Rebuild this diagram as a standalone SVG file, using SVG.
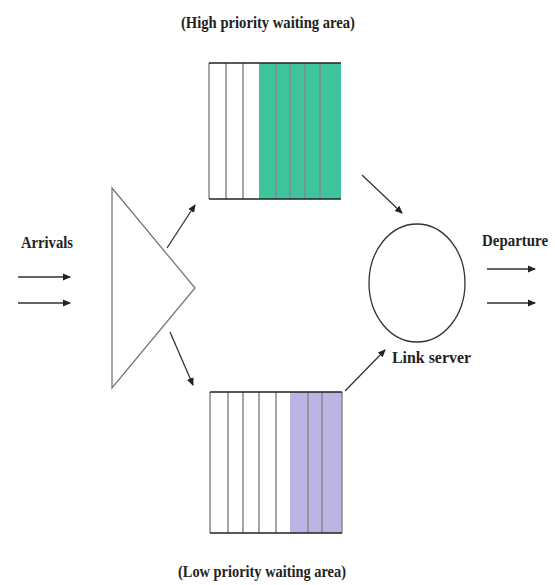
<svg xmlns="http://www.w3.org/2000/svg" width="555" height="585" viewBox="0 0 555 585">
<style>
.t{font-family:"Liberation Serif","Times New Roman",serif;font-size:16px;font-weight:bold;fill:#222;}
.sep{stroke:#888;stroke-width:1.5;}
.edge{stroke:#222;stroke-width:1.5;}
.con{stroke:#333;stroke-width:1.3;fill:none;marker-end:url(#ah);}
</style>
<defs>
<marker id="ah" markerWidth="8" markerHeight="8" refX="7" refY="4" orient="auto" markerUnits="userSpaceOnUse">
<path d="M0,0.5 L8,4 L0,7.5 Z" fill="#222"/>
</marker>
</defs>
<rect width="555" height="585" fill="#fff"/>
<g id="high-queue">
<rect x="259" y="63" width="82" height="136" fill="#40c49e"/>
<line class="sep" x1="209" y1="63" x2="209" y2="199"/>
<line class="sep" x1="226" y1="63" x2="226" y2="199"/>
<line class="sep" x1="243" y1="63" x2="243" y2="199"/>
<line class="sep" x1="276" y1="63" x2="276" y2="199"/>
<line class="sep" x1="290" y1="63" x2="290" y2="199"/>
<line class="sep" x1="305" y1="63" x2="305" y2="199"/>
<line class="sep" x1="320" y1="63" x2="320" y2="199"/>
<line class="edge" x1="209" y1="63" x2="341" y2="63"/>
<line class="edge" x1="209" y1="199" x2="341" y2="199"/>
<text class="t" x="181" y="28" textLength="174" lengthAdjust="spacingAndGlyphs">(High priority waiting area)</text>
</g>
<g id="low-queue">
<rect x="290" y="392" width="52" height="141" fill="#bbb5e6"/>
<line class="sep" x1="210" y1="392" x2="210" y2="533"/>
<line class="sep" x1="228" y1="392" x2="228" y2="533"/>
<line class="sep" x1="243" y1="392" x2="243" y2="533"/>
<line class="sep" x1="259" y1="392" x2="259" y2="533"/>
<line class="sep" x1="276" y1="392" x2="276" y2="533"/>
<line class="sep" x1="308" y1="392" x2="308" y2="533"/>
<line class="sep" x1="322" y1="392" x2="322" y2="533"/>
<line class="sep" x1="342" y1="392" x2="342" y2="533"/>
<line class="edge" x1="210" y1="392" x2="342" y2="392"/>
<line class="edge" x1="210" y1="533" x2="342" y2="533"/>
<text class="t" x="178" y="577" textLength="168" lengthAdjust="spacingAndGlyphs">(Low priority waiting area)</text>
</g>
<g id="classifier">
<polygon points="112,188 195,288 112,388" fill="#fff" stroke="#777" stroke-width="1.3"/>
</g>
<g id="server">
<ellipse cx="417" cy="283" rx="48" ry="59" fill="#fff" stroke="#333" stroke-width="1.3"/>
<text class="t" x="392" y="363" textLength="79" lengthAdjust="spacingAndGlyphs">Link server</text>
</g>
<g id="arrivals">
<text class="t" x="21" y="248" textLength="52" lengthAdjust="spacingAndGlyphs">Arrivals</text>
</g>
<g id="departure">
<text class="t" x="482" y="246" textLength="66" lengthAdjust="spacingAndGlyphs">Departure</text>
</g>
<g id="connectors">
<line class="con" x1="18" y1="277" x2="70" y2="277"/>
<line class="con" x1="18" y1="303" x2="70" y2="303"/>
<line class="con" x1="167" y1="248" x2="195" y2="205"/>
<line class="con" x1="170" y1="332" x2="193" y2="385"/>
<line class="con" x1="362" y1="175" x2="402" y2="213"/>
<line class="con" x1="345" y1="391" x2="385" y2="350"/>
<line class="con" x1="487" y1="269" x2="535" y2="269"/>
<line class="con" x1="487" y1="303" x2="535" y2="303"/>
</g>
</svg>
